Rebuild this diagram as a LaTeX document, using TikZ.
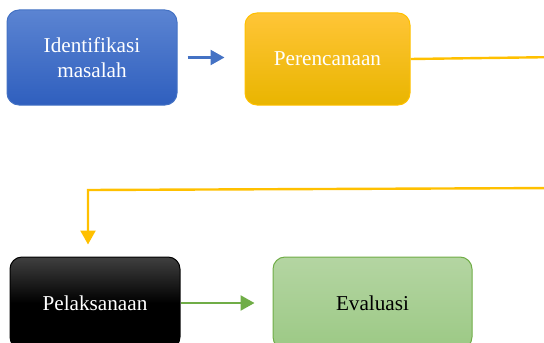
\documentclass[tikz,border=0pt]{standalone}
\usepackage{fontspec}
\setmainfont{Liberation Serif}
\usepackage{tikz}
\usetikzlibrary{arrows.meta}
\usepackage{xcolor}
\definecolor{bluetop}{HTML}{5B84D2}
\definecolor{bluebot}{HTML}{2F5FBE}
\definecolor{blueline}{HTML}{4472C4}
\definecolor{yeltop}{HTML}{FFC537}
\definecolor{yelbot}{HTML}{E9B500}
\definecolor{yelline}{HTML}{FFC000}
\definecolor{greentop}{HTML}{B4D5A2}
\definecolor{greenbot}{HTML}{9CC985}
\definecolor{greenline}{HTML}{70AD47}

\begin{document}
\begin{tikzpicture}[x = .5pt, y = -.5pt]
				    \tikzstyle{box}=[draw,rounded corners=6pt,line width=.5pt,align=center,font=\fontsize{10.6}{12.5}\selectfont]
				    \tikzstyle{bluebox}=[box,draw=blueline,top color=bluetop,bottom color=bluebot,text=white]
				    \tikzstyle{yelbox}=[box,draw=yelline,top color=yeltop,bottom color=yelbot,text=white]
				    \tikzstyle{blackbox}=[box,draw=black,top color=black!75,bottom color=black,middle color=black,text=white]
				    \tikzstyle{greenbox}=[box,draw=greenline,top color=greentop,bottom color=greenbot,text=black]
				    \tikzstyle{link}=[draw,line width = 1.2pt,-{Triangle[length=7pt,width=7.5pt]}]
				    \useasboundingbox (0,0) rectangle (544,342);
				    \node[bluebox,minimum width=85pt,minimum height=47.5pt] (id) at (92,57.5) {Identifikasi\\masalah};
				    \node[yelbox,minimum width=82.5pt,minimum height=46pt] (pr) at (327.5,59) {Perencanaan};
				    \node[blackbox,minimum width=85pt,minimum height=46pt] (pl) at (95,303) {Pelaksanaan};
				    \node[greenbox,minimum width=99.5pt,minimum height=46pt] (ev) at (372.5,303) {Evaluasi};
				    \coordinate (r1) at (560,57);
				    \coordinate (r2) at (560,188);
				    \coordinate (l2) at (88,190);
				    \draw[link,blueline] ([xshift=5pt]id.east) -- ([xshift=-10pt]pr.west |- id.east);
				    \draw[link,yelline] (pr.east) -- (r1) -- (r2) -- (l2) -- ([yshift=6pt]l2 |- pl.north);
				    \draw[link,greenline] (pl.east) -- ([xshift=-9pt]ev.west);
				\end{tikzpicture}
\end{document}
